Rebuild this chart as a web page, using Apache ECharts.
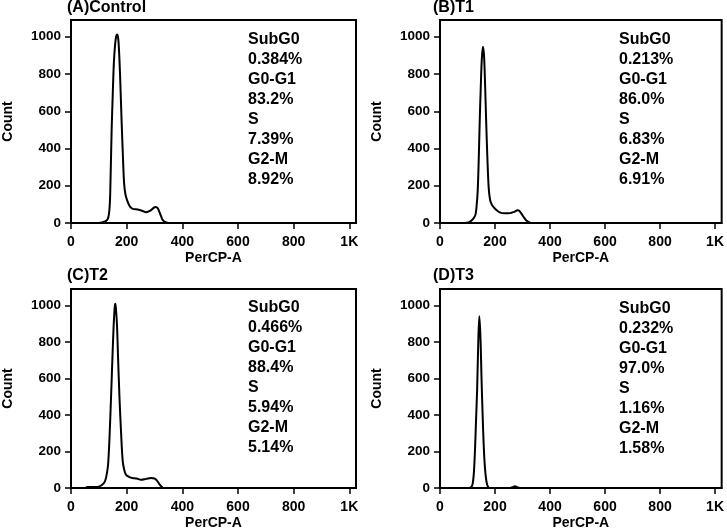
<!DOCTYPE html>
<html>
<head>
<meta charset="utf-8">
<script src="https://cdn.jsdelivr.net/npm/echarts@6/dist/echarts.min.js"></script>
<style>
html,body{margin:0;padding:0;background:#fff;}
#c{width:727px;height:531px;}
</style>
</head>
<body>
<div id="c"></div>
<script>
// ---- data ----
const panelTitles = ['(A)Control', '(B)T1', '(C)T2', '(D)T3'];
const phases = ['SubG0', 'G0-G1', 'S', 'G2-M'];
const pctA = ['0.384%', '83.2%', '7.39%', '8.92%'];
const pctB = ['0.213%', '86.0%', '6.83%', '6.91%'];
const pctC = ['0.466%', '88.4%', '5.94%', '5.14%'];
const pctD = ['0.232%', '97.0%', '1.16%', '1.58%'];
const xTicks = [0, 200, 400, 600, 800, 1000];
const xTickLabels = ['0', '200', '400', '600', '800', '1K'];
const yTicks = [0, 200, 400, 600, 800, 1000];
const yTickLabels = ['0', '200', '400', '600', '800', '1000'];

const channelsA = [0, 90, 110, 125, 133, 138, 141, 146, 150, 154, 158, 162, 166, 170, 174, 178, 182, 187, 191, 196, 204, 212, 222, 240, 255, 270, 285, 296, 304, 312, 318, 324, 330, 340, 350, 1024];
const countsA   = [0, 0, 3, 10, 25, 70, 165, 500, 690, 860, 950, 1000, 1012, 985, 880, 720, 540, 340, 210, 150, 112, 88, 76, 72, 66, 58, 66, 80, 86, 78, 58, 35, 15, 4, 0, 0];

const channelsB = [0, 80, 97, 111, 122, 129, 133, 137, 141, 144, 148, 152, 156, 160, 164, 168, 172, 177, 182, 188, 195, 205, 219, 235, 255, 270, 282, 288, 296, 305, 315, 327, 335, 1024];
const countsB   = [0, 0, 1, 9, 25, 45, 90, 170, 350, 525, 720, 880, 946, 900, 740, 540, 360, 190, 125, 100, 85, 70, 56, 52, 53, 60, 68, 66, 50, 30, 12, 2, 0, 0];

const channelsC = [0, 50, 58, 95, 110, 122, 130, 134, 139, 144, 149, 153, 157, 159, 161, 165, 169, 174, 180, 186, 192, 198, 210, 221, 236, 252, 270, 288, 300, 308, 318, 325, 332, 1024];
const countsC   = [0, 0, 5, 6, 15, 36, 90, 144, 300, 503, 720, 880, 990, 1009, 990, 900, 720, 503, 300, 144, 95, 72, 60, 55, 52, 45, 50, 55, 52, 42, 20, 8, 0, 0];

const channelsD = [0, 105, 115, 119, 123, 127, 131, 135, 139, 143, 147, 151, 155, 159, 163, 167, 171, 176, 182, 255, 264, 272, 280, 290, 1024];
const countsD   = [0, 0, 8, 25, 80, 200, 370, 540, 790, 941, 830, 600, 400, 230, 120, 55, 20, 4, 0, 0, 5, 9, 5, 0, 0];

// ---- layout ----
const FONT = '"Liberation Sans", Arial, sans-serif';
const grids = [
  {left: 70, top: 20, width: 286, height: 203},
  {left: 440, top: 20, width: 286, height: 203},
  {left: 70, top: 289, width: 286, height: 203},
  {left: 440, top: 289, width: 286, height: 203}
];
const pcts = [pctA, pctB, pctC, pctD];
const chans = [channelsA, channelsB, channelsC, channelsD];
const counts = [countsA, countsB, countsC, countsD];
const textPos = [[248, 30], [619, 30], [248, 298], [619, 299]];
const titlePos = [[67, 0], [433, 0], [67, 268], [433, 268]];

const option = {
  backgroundColor: '#fff',
  animation: false,
  title: [],
  grid: grids.map(g => Object.assign({show: true, borderColor: '#000', borderWidth: 2, backgroundColor: 'transparent'}, g)),
  xAxis: [],
  yAxis: [],
  series: []
};

for (let i = 0; i < 4; i++) {
  option.title.push({
    text: panelTitles[i], left: titlePos[i][0], top: titlePos[i][1], padding: 0,
    textStyle: {fontFamily: FONT, fontWeight: 'bold', fontSize: 16, lineHeight: 16, color: '#000'}
  });
  const lines = [];
  phases.forEach((p, k) => { lines.push(p); lines.push(pcts[i][k]); });
  option.title.push({
    text: lines.join('\n'), left: textPos[i][0], top: textPos[i][1], padding: 0,
    textStyle: {fontFamily: FONT, fontWeight: 'bold', fontSize: 16, lineHeight: 20, color: '#000'}
  });
  option.xAxis.push({
    type: 'value', gridIndex: i, min: 0, max: 1024,
    name: 'PerCP-A', nameLocation: 'middle', nameGap: 28,
    nameTextStyle: {fontFamily: FONT, fontWeight: 'bold', fontSize: 14, color: '#000'},
    axisLine: {show: true, onZero: false, lineStyle: {color: '#000', width: 2}},
    axisTick: {show: true, length: 6, lineStyle: {color: '#000', width: 1.5}, customValues: xTicks},
    axisLabel: {fontFamily: FONT, fontWeight: 'bold', fontSize: 14, color: '#000', margin: 12,
      customValues: xTicks,
      formatter: v => xTickLabels[xTicks.indexOf(v)] ?? ''},
    splitLine: {show: false}
  });
  option.yAxis.push({
    type: 'value', gridIndex: i, min: 0, max: 1090,
    name: 'Count', nameLocation: 'middle', nameGap: 56, nameRotate: 90,
    nameTextStyle: {fontFamily: FONT, fontWeight: 'bold', fontSize: 14, color: '#000'},
    axisLine: {show: true, lineStyle: {color: '#000', width: 2}},
    axisTick: {show: true, length: 6, lineStyle: {color: '#000', width: 1.5}, customValues: yTicks},
    axisLabel: {fontFamily: FONT, fontWeight: 'bold', fontSize: 13.5, color: '#000', margin: 10,
      customValues: yTicks,
      formatter: v => yTickLabels[yTicks.indexOf(v)] ?? ''},
    splitLine: {show: false}
  });
  option.series.push({
    type: 'line', xAxisIndex: i, yAxisIndex: i,
    data: chans[i].map((x, k) => [x, counts[i][k]]),
    showSymbol: false, smooth: 0.35,
    lineStyle: {color: '#000', width: 2},
    clip: true
  });
}

const chart = echarts.init(document.getElementById('c'), null, {renderer: 'canvas'});
chart.setOption(option);
</script>
</body>
</html>
